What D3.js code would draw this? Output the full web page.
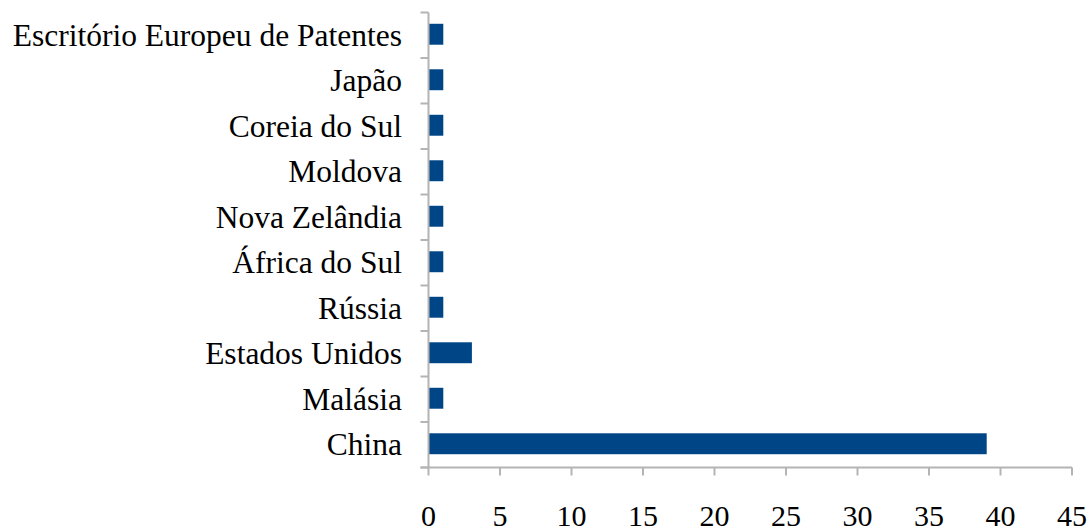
<!DOCTYPE html>
<html><head><meta charset="utf-8">
<script src="https://cdn.jsdelivr.net/npm/d3@7"></script>
<style>body{margin:0;background:#fff}svg{display:block}</style>
</head><body>
<svg id="c" width="1090" height="528"></svg>
<script>
const categories = ["Escritório Europeu de Patentes","Japão","Coreia do Sul","Moldova","Nova Zelândia","África do Sul","Rússia","Estados Unidos","Malásia","China"];
const values = [1,1,1,1,1,1,1,3,1,39];
const xTicks = [0,5,10,15,20,25,30,35,40,45];

const svg = d3.select("#c");
const pLeft = 428.5, pRight = 1072, pTop = 12.5, pBottom = 467.5;
const x = d3.scaleLinear().domain([0,45]).range([pLeft,pRight]);
const y = d3.scaleBand().domain(categories).range([pTop,pBottom]).paddingInner(0.54).paddingOuter(0.27);
const axisColor = "#b4b4b4";
const font = "'Liberation Serif','Times New Roman',serif";

svg.selectAll("rect.bar").data(categories).enter().append("rect")
  .attr("class","bar")
  .attr("x", x(0)+0.5)
  .attr("y", d=>y(d)-1)
  .attr("width", (d,i)=>x(values[i])-x(0))
  .attr("height", y.bandwidth())
  .attr("fill","#004586");

// y axis
const band = (pBottom-pTop)/categories.length;
const g = svg.append("g");
g.append("line").attr("x1",pLeft).attr("x2",pLeft).attr("y1",pTop).attr("y2",pBottom).attr("stroke",axisColor).attr("stroke-width",2);
d3.range(categories.length+1).forEach(i=>{
  g.append("line").attr("x1",pLeft-8).attr("x2",pLeft).attr("y1",pTop+i*band).attr("y2",pTop+i*band).attr("stroke",axisColor).attr("stroke-width",2);
});
g.selectAll("text").data(categories).enter().append("text")
  .attr("x",402).attr("y",d=>y(d)+y.bandwidth()/2+10.5)
  .attr("text-anchor","end")
  .style("font-family",font).style("font-size","31.5px").attr("fill","#000")
  .text(d=>d);

// x axis
const xa = svg.append("g").attr("transform",`translate(0,${pBottom})`);
xa.append("line").attr("x1",pLeft-8).attr("x2",pRight).attr("y1",0).attr("y2",0).attr("stroke",axisColor).attr("stroke-width",2);
xa.selectAll("line.t").data(xTicks).enter().append("line").attr("class","t")
  .attr("x1",d=>x(d)).attr("x2",d=>x(d)).attr("y1",0).attr("y2",8).attr("stroke",axisColor).attr("stroke-width",2);
xa.selectAll("text").data(xTicks).enter().append("text")
  .attr("x",d=>x(d)).attr("y",58.5).attr("text-anchor","middle")
  .style("font-family",font).style("font-size","30px").attr("fill","#000")
  .text(d=>d);
</script>
</body></html>
